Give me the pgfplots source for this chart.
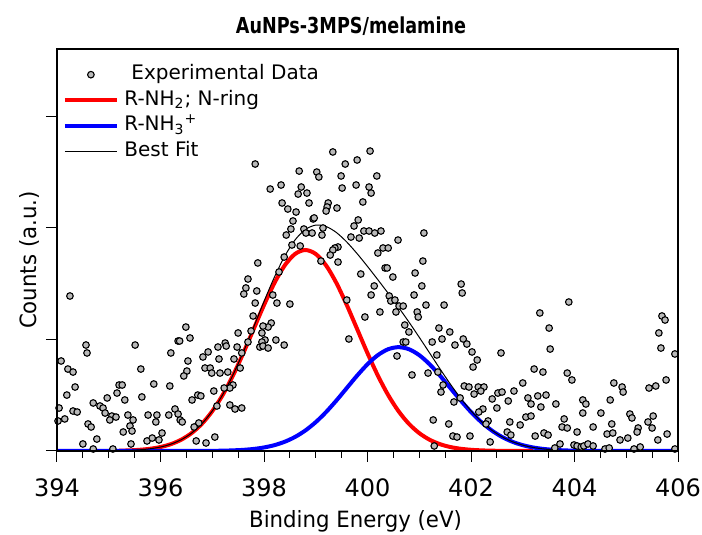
\documentclass[border=0pt]{standalone}
\usepackage{fontspec}
\setmainfont{DejaVu Sans}
\newfontfamily\titlefont[FakeStretch=0.8]{DejaVu Sans}
\newfontfamily\labelfont[FakeStretch=0.95]{DejaVu Sans}
\usepackage{pgfplots}
\pgfplotsset{compat=1.18}
\pgfplotsset{
  lineleg/.style={legend image code/.code={\draw[##1] (0pt,0pt) -- (26pt,0pt);}},
  markleg/.style={legend image code/.code={\draw[##1,only marks] plot coordinates {(13pt,0pt)};}},
}
\begin{document}
\begin{tikzpicture}
\begin{axis}[
  scale only axis, width=310.5pt, height=201pt,
  xmin=394, xmax=406, ymin=0, ymax=3.6,
  xtick={394,396,...,406}, minor x tick num=3,
  ytick={0,1,2,3}, yticklabels={},
  xtick pos=bottom, ytick pos=left,
  tick align=outside,
  major tick length=5.5pt, minor tick length=3.3pt,
  tick style={black, line width=0.5pt},
  axis line style={line width=0.8pt, black},
  /pgf/number format/assume math mode=true,
  xticklabel style={font=\fontsize{12}{14}\selectfont, yshift=-5pt},
  xlabel={Binding Energy (eV)}, ylabel={Counts (a.u.)},
  label style={font=\labelfont\fontsize{11.2}{13}\selectfont},
  xlabel style={at={(0.4807,-0.1915)},anchor=base},
  ylabel style={at={(-0.0338,0.475)},anchor=base},
  legend cell align=left,
  legend style={at={(0.00886,0.962)},anchor=north west,draw=none,fill=none,inner sep=0pt,
    font=\fontsize{10}{12}\selectfont,row sep=2.75pt,
    nodes={inner ysep=0pt,inner xsep=2.75pt,text height=7.5pt,text depth=2.5pt}},
]
\addplot[only marks, mark=*, mark size=1.65pt,
  mark options={fill=gray!55, draw=black, line width=0.55pt}, markleg]
table {
394.25 1.388
394.56 0.949
394.58 0.878
395.51 0.949
394.08 0.806
394.21 0.734
394.31 0.707
395.62 0.734
394.35 0.573
394.19 0.501
395.20 0.591
395.26 0.591
395.87 0.600
395.16 0.519
395.64 0.484
395.31 0.457
394.97 0.475
394.70 0.430
394.83 0.403
394.89 0.385
394.04 0.385
394.31 0.358
394.39 0.349
394.93 0.340
395.06 0.313
395.14 0.304
395.02 0.278
395.37 0.322
395.76 0.322
395.93 0.322
394.15 0.287
394.02 0.269
395.47 0.278
395.91 0.260
394.60 0.242
394.66 0.215
395.41 0.224
395.45 0.179
395.28 0.170
394.77 0.107
394.50 0.063
395.43 0.063
395.74 0.090
395.84 0.116
395.08 0.018
394.70 0.018
397.88 1.684
397.69 1.540
397.65 1.460
397.61 1.406
397.86 1.433
397.83 1.325
397.79 1.209
396.49 1.110
397.50 1.057
396.34 0.985
396.37 0.985
396.57 1.012
397.75 1.075
397.69 0.976
397.92 0.931
396.20 0.878
397.25 0.967
397.27 0.940
397.11 0.931
397.48 0.931
396.92 0.887
396.82 0.842
397.57 0.878
397.42 0.824
397.13 0.824
396.53 0.806
397.54 0.743
396.86 0.743
396.96 0.743
396.99 0.698
397.15 0.698
397.30 0.707
396.51 0.716
396.45 0.672
396.18 0.582
397.40 0.591
397.34 0.564
397.23 0.564
397.03 0.537
396.72 0.501
396.78 0.493
396.61 0.457
397.09 0.403
397.34 0.412
397.44 0.376
397.57 0.385
396.28 0.376
396.34 0.331
396.16 0.322
396.38 0.278
396.42 0.260
396.74 0.251
396.65 0.215
396.03 0.161
395.97 0.099
397.05 0.125
396.69 0.090
396.88 0.072
399.33 2.678
397.83 2.570
399.57 2.570
399.80 2.606
398.68 2.507
399.02 2.498
399.06 2.454
399.49 2.463
398.33 2.382
398.12 2.346
398.72 2.364
398.66 2.301
398.83 2.310
399.51 2.355
399.78 2.382
398.87 2.221
398.35 2.221
398.46 2.167
398.62 2.140
399.24 2.221
399.22 2.185
399.20 2.149
399.41 2.176
399.91 2.230
398.56 2.060
398.95 2.078
398.97 2.087
399.82 2.069
399.74 2.015
399.93 1.970
398.52 1.988
398.43 1.934
398.77 1.988
398.81 1.952
398.93 1.952
399.14 1.997
399.12 1.934
399.68 1.916
399.84 1.907
398.54 1.845
398.70 1.836
398.39 1.737
399.43 1.827
399.37 1.818
399.33 1.800
399.28 1.755
399.10 1.701
399.43 1.692
398.29 1.603
399.87 1.585
398.17 1.397
398.25 1.325
398.50 1.316
399.60 1.352
399.95 1.200
398.14 1.146
398.08 1.110
397.98 1.119
397.96 1.057
398.02 0.994
397.96 0.976
397.98 0.940
398.08 0.922
398.23 0.994
398.39 0.949
399.64 1.003
400.05 2.686
400.18 2.463
400.03 2.364
400.07 2.310
400.03 1.970
400.14 1.952
400.26 1.970
400.59 1.889
401.09 1.952
400.30 1.818
400.40 1.818
400.20 1.773
401.07 1.701
400.34 1.639
400.38 1.639
400.49 1.558
400.92 1.594
400.13 1.478
401.05 1.478
400.07 1.397
400.90 1.397
400.42 1.388
400.45 1.343
400.53 1.352
400.61 1.298
400.69 1.298
401.13 1.307
401.48 1.307
400.24 1.245
400.55 1.245
400.96 1.245
400.98 1.200
401.81 1.495
401.83 1.415
400.72 1.128
400.80 1.066
401.38 1.101
401.59 1.066
401.44 1.003
401.25 0.976
401.69 0.949
401.85 1.003
400.69 0.976
400.74 0.976
401.34 0.860
400.57 0.851
401.17 0.698
400.86 0.681
401.36 0.707
401.46 0.591
401.42 0.528
401.87 0.582
401.67 0.439
401.79 0.475
401.27 0.278
401.57 0.242
401.65 0.134
401.73 0.125
401.29 0.045
403.33 1.236
403.51 1.101
403.53 0.913
401.92 0.958
402.02 0.887
402.58 0.878
402.12 0.815
402.04 0.752
403.22 0.734
403.39 0.707
403.00 0.609
401.96 0.573
402.14 0.573
402.25 0.573
402.19 0.537
402.06 0.510
402.52 0.519
402.60 0.528
402.83 0.537
403.10 0.475
403.29 0.493
403.45 0.501
402.41 0.466
402.72 0.448
403.16 0.421
403.35 0.394
403.64 0.421
402.50 0.385
402.23 0.376
402.15 0.349
403.06 0.304
403.16 0.313
403.80 0.287
402.33 0.269
402.29 0.242
402.75 0.260
402.95 0.233
403.76 0.215
402.70 0.170
402.77 0.143
403.24 0.134
403.41 0.161
403.49 0.143
401.98 0.134
402.37 0.081
403.72 0.063
403.62 0.027
403.89 1.334
405.69 1.209
405.75 1.173
405.63 1.057
405.67 0.922
405.94 0.869
403.86 0.698
403.95 0.636
405.77 0.636
404.76 0.609
404.92 0.573
404.94 0.528
405.44 0.564
405.57 0.582
404.16 0.457
404.22 0.421
404.69 0.457
404.16 0.340
404.51 0.340
405.07 0.331
405.11 0.296
405.52 0.313
403.86 0.206
405.42 0.260
404.72 0.242
404.36 0.215
405.50 0.206
405.23 0.206
405.21 0.170
404.05 0.170
404.63 0.152
404.74 0.161
405.79 0.152
405.03 0.116
404.88 0.099
405.61 0.099
403.99 0.054
404.05 0.045
404.13 0.036
404.18 0.045
404.26 0.063
404.36 0.045
404.59 0.018
404.67 0.027
405.15 0.018
405.27 0.036
405.94 0.018
};
\addlegendentry{\hspace*{3.5pt}Experimental Data}
\addplot[red, line width=2pt, smooth, lineleg]
coordinates {
(395.2,0.0028)(395.4,0.0056)(395.6,0.0108)(395.8,0.0200)(396.0,0.0356)
(396.2,0.0612)(396.4,0.1010)(396.6,0.1600)(396.8,0.2435)(397.0,0.3562)
(397.2,0.5004)(397.4,0.6755)(397.6,0.8762)(397.8,1.0917)(398.0,1.3070)
(398.2,1.5035)(398.4,1.6616)(398.6,1.7644)(398.8,1.8000)(399.0,1.7644)
(399.2,1.6616)(399.4,1.5035)(399.6,1.3070)(399.8,1.0917)(400.0,0.8762)
(400.2,0.6755)(400.4,0.5004)(400.6,0.3562)(400.8,0.2435)(401.0,0.1600)
(401.2,0.1010)(401.4,0.0612)(401.6,0.0356)(401.8,0.0200)(402.0,0.0108)
(402.2,0.0056)(402.4,0.0028)(402.6,0.0013)(402.8,0.0006)(403.0,0.0003)
(403.2,0.0000)
};
\addlegendentry{R-NH\textsubscript{2}; N-ring}
\addplot[blue, line width=2pt, smooth, lineleg]
coordinates {
(394.0,0)(395.0,0)(396.0,0)(396.6,0.0003)(396.8,0.0007)(397.0,0.0014)
(397.2,0.0029)(397.4,0.0056)(397.6,0.0103)(397.8,0.0184)(398.0,0.0316)
(398.2,0.0522)(398.4,0.0827)(398.6,0.1258)(398.8,0.1840)(399.0,0.2585)
(399.2,0.3490)(399.4,0.4527)(399.6,0.5640)(399.8,0.6753)(400.0,0.7768)
(400.2,0.8585)(400.4,0.9116)(400.6,0.9300)(400.8,0.9116)(401.0,0.8585)
(401.2,0.7768)(401.4,0.6753)(401.6,0.5640)(401.8,0.4527)(402.0,0.3490)
(402.2,0.2585)(402.4,0.1840)(402.6,0.1258)(402.8,0.0827)(403.0,0.0522)
(403.2,0.0316)(403.4,0.0184)(403.6,0.0103)(403.8,0.0056)(404.0,0.0029)
(404.2,0.0014)(404.4,0.0007)(404.6,0.0003)(405.0,0)(406.0,0)
};
\addlegendentry{R-NH\textsubscript{3}\textsuperscript{+}}
\addplot[black, line width=0.5pt, smooth, lineleg]
coordinates {
(395.2,0.0028)(395.4,0.0056)(395.6,0.0108)(395.8,0.0200)(396.0,0.0356)
(396.2,0.0612)(396.4,0.1010)(396.6,0.1600)(396.8,0.2442)(397.0,0.3576)
(397.2,0.5033)(397.4,0.6811)(397.6,0.8865)(397.8,1.1101)(398.0,1.3386)
(398.2,1.5557)(398.4,1.7443)(398.6,1.8902)(398.8,1.9840)(399.0,2.0229)
(399.2,2.0106)(399.4,1.9562)(399.6,1.8710)(399.8,1.7670)(400.0,1.6530)
(400.2,1.5340)(400.4,1.4120)(400.6,1.2862)(400.8,1.1551)(401.0,1.0185)
(401.2,0.8778)(401.4,0.7365)(401.6,0.5996)(401.8,0.4727)(402.0,0.3598)
(402.2,0.2641)(402.4,0.1868)(402.6,0.1271)(402.8,0.0833)(403.0,0.0525)
(403.2,0.0316)(403.4,0.0184)(403.6,0.0103)(403.8,0.0056)(404.0,0.0029)
};
\addlegendentry{Best Fit}
\coordinate (SW) at (rel axis cs:0,0);
\coordinate (NE) at (rel axis cs:1,1);
\coordinate (NW) at (rel axis cs:0,1);
\end{axis}
\draw[black, line width=0.8pt] (SW) rectangle (NE);
\node[anchor=base, font=\titlefont\bfseries\fontsize{11}{13}\selectfont] at ([shift={(147pt,8pt)}]NW) {AuNPs-3MPS/melamine};
\pgfresetboundingbox
\path ([shift={(-28.5pt,-42pt)}]SW) rectangle ([shift={(12pt,24.5pt)}]NE);
\end{tikzpicture}
\end{document}
